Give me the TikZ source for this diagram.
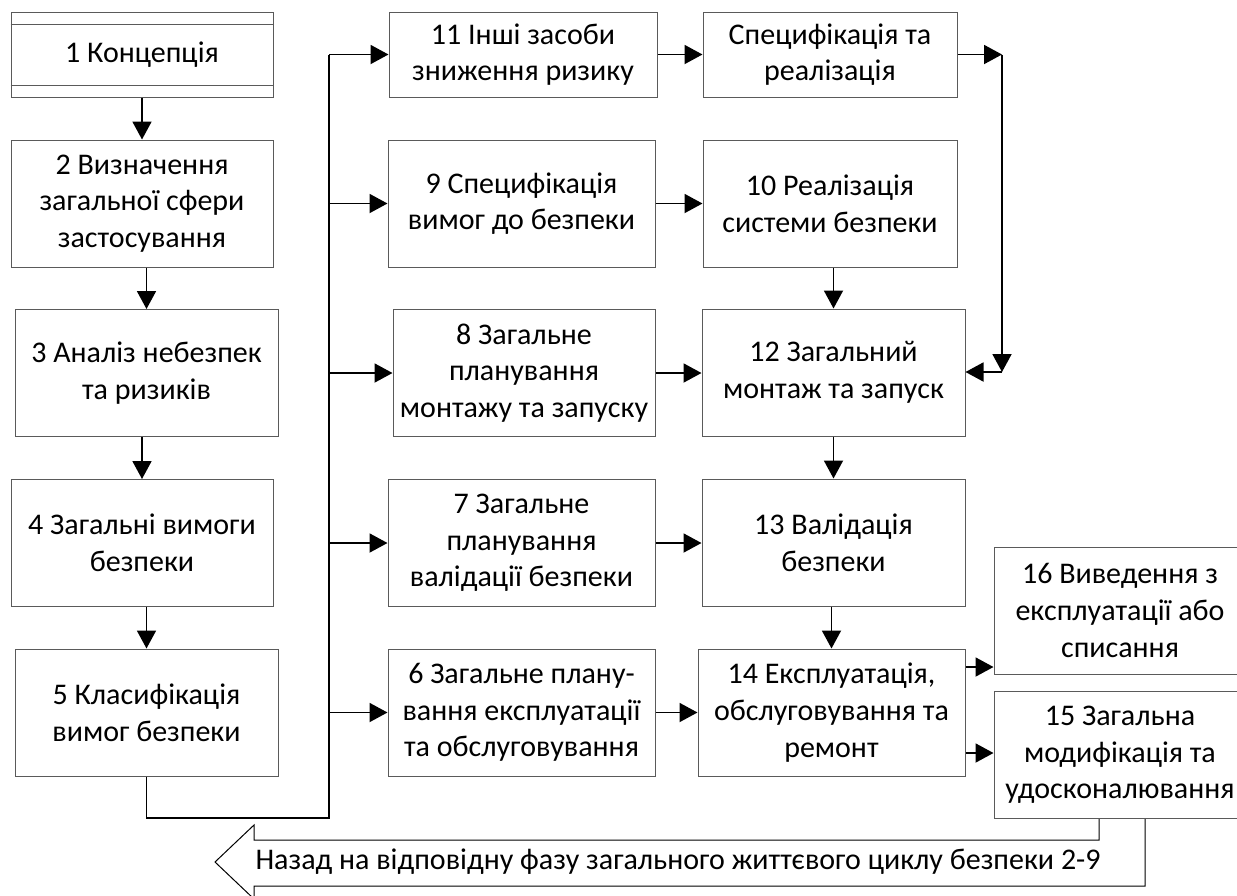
\documentclass[tikz,border=0pt]{standalone}
\usepackage{fontspec}
\setmainfont{Carlito}
\usetikzlibrary{positioning, arrows.meta, calc}
\definecolor{boxcol}{RGB}{90,90,90}

\begin{document}
\begin{tikzpicture}[
			x=1pt,
			y=-1pt,
			box/.style={
				draw=boxcol,
				rectangle,
				line width=1pt,
				minimum width=#1,
				minimum height=127pt,
				inner sep=2pt,
				align=center,
				font=\fontsize{30}{36.6}\selectfont
			},
			box/.default=262pt,
			arr/.style={
				draw=black,
				-{Triangle[length=18pt,width=19pt]},
				line width=1.9pt
			},
			busline/.style={
				draw=black,
				line width=1.3pt
			},
			backarrow/.style={
				draw=black,
				line width=1pt,
				line join=miter
			}
			]
			\useasboundingbox (0,0) rectangle (1237,895);
			\fill[white] (0,0) rectangle (1237,895);
			
			% Phases
			\node[box=262pt, minimum height=85pt] (n1) at (142,54.5) {1 Концепція};
			\node[box=262pt] (n2) at (142,203.5) {2 Визначення\\загальної сфери\\застосування};
			\node[box=263pt] (n3) at (146.5,373) {3 Аналіз небезпек\\та ризиків};
			\node[box=262pt] (n4) at (142,543) {4 Загальні вимоги\\безпеки};
			\node[box=263pt] (n5) at (146.5,712.5) {5 Класифікація\\вимог безпеки};
			
			\node[box=268pt, minimum height=85pt] (n11) at (523,54.5) {11 Інші засоби\\зниження ризику};
			\node[box=267pt] (n9) at (521.5,203.5) {9 Специфікація\\вимог до безпеки};
			\node[box=262pt] (n8) at (524,373) {8 Загальне\\планування\\монтажу та запуску};
			\node[box=267pt] (n7) at (521.5,543) {7 Загальне\\планування\\валідації безпеки};
			\node[box=267pt] (n6) at (521.5,712.5) {6 Загальне плану-\\вання експлуатації\\та обслуговування};
			
			\node[box=254pt, minimum height=85pt] (spec) at (830,54.5) {Специфікація та\\реалізація};
			\node[box=254pt] (n10) at (830,203.5) {10 Реалізація\\системи безпеки};
			\node[box=263pt] (n12) at (833.5,372.5) {12 Загальний\\монтаж та запуск};
			\node[box=263pt] (n13) at (833.5,542.5) {13 Валідація\\безпеки};
			\node[box=267pt] (n14) at (831.5,712.5) {14 Експлуатація,\\обслуговування та\\ремонт};
			
			\node[box=252pt] (n16) at (1120,610.5) {16 Виведення з\\експлуатації або\\списання};
			\node[box=252pt] (n15) at (1120,755) {15 Загальна\\модифікація та\\удосконалювання};
			
			% Double lines of the first phase
			\draw[draw=boxcol, line width=1pt] ([yshift=-12.5pt]n1.north west) -- ([yshift=-12.5pt]n1.north east);
			\draw[draw=boxcol, line width=1pt] ([yshift=12.5pt]n1.south west) -- ([yshift=12.5pt]n1.south east);
			
			% Helper points
			\coordinate (bus) at (329,818);
			\coordinate (rtop) at (1002,54.5);
			\coordinate (rbot) at (1002,372);
			\coordinate (k16) at (980,667);
			\coordinate (k15) at (980,753);
			
			% Transitions
			\foreach \a/\b in {n1/n2, n2/n3, n3/n4, n4/n5, n10/n12, n12/n13, n13/n14}
				\draw[arr] (\b.north |- \a.south) -- (\b.north);
			
			\draw[busline] (n5.south) |- (bus) -- (bus |- n11);
			\foreach \n in {n11, n9, n8, n7, n6}
				\draw[arr] (bus |- \n) -- (\n);
			
			\foreach \a/\b in {n11/spec, n9/n10, n8/n12, n7/n13, n6/n14}
				\draw[arr] (\a.east) -- (\a.east -| \b.west);
			
			\draw[arr] (spec.east) -- (rtop);
			\draw[arr] (rtop) -- (rbot);
			\draw[arr] (rbot) -- (n12.east |- rbot);
			
			\draw[arr] (n14.east |- k16) -- (n16.west |- k16);
			\draw[arr] (n14.east |- k15) -- (n15.west |- k15);
			
			% Way back
			\draw[backarrow] ([xshift=-21pt]n15.south) -- ++(0,21) -| (254,825) -- (215,862) -- (254,899) -- (254,886) -| ([xshift=25pt]n15.south);
			\node[font=\fontsize{30}{36.6}\selectfont] (back) at (678,862) {Назад на відповідну фазу загального життєвого циклу безпеки 2-9};
		\end{tikzpicture}
\end{document}
